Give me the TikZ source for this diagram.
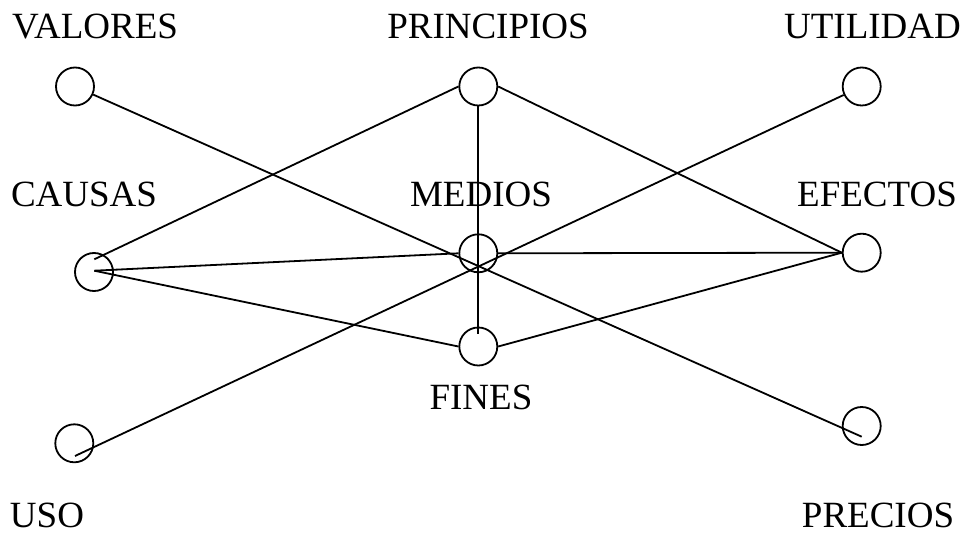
\documentclass[tikz,border=0pt]{standalone}
\usepackage{fontspec}
\setmainfont{Liberation Serif}
\begin{document}
\begin{tikzpicture}[x=1pt,y=-1pt,
  dot/.style={draw,circle,minimum size=38pt,inner sep=0pt,line width=1.8pt},
  lbl/.style={anchor=base,inner sep=0pt,text depth=0pt,font=\fontsize{37}{42}\selectfont},
  conn/.style={line width=1.8pt}]
\useasboundingbox (0,0) rectangle (964,537);
% circles
\node[dot] (valores) at (75,86.5) {};
\node[dot] (principios) at (478.3,86.5) {};
\node[dot] (utilidad) at (861.7,86.5) {};
\node[dot] (causas) at (94,272) {};
\node[dot] (medios) at (478.3,253.3) {};
\node[dot] (efectos) at (861.7,252.7) {};
\node[dot] (fines) at (478.3,346.5) {};
\node[dot] (uso) at (74.3,443.3) {};
\node[dot] (precios) at (861.7,426) {};
% labels
\node[lbl] (tvalores) at (95,39) {VALORES};
\node[lbl] (tprincipios) at (488,39) {PRINCIPIOS};
\node[lbl] (tutilidad) at (872.5,39) {UTILIDAD};
\node[lbl] (tcausas) at (84,206.7) {CAUSAS};
\node[lbl] (tmedios) at (481,206.7) {MEDIOS};
\node[lbl] (tefectos) at (877,206.7) {EFECTOS};
\node[lbl] (tfines) at (481,409.3) {FINES};
\node[lbl] (tuso) at (47,527) {USO};
\node[lbl] (tprecios) at (878,527) {PRECIOS};
% free ends
\coordinate (preend) at (861.7,436.7);
\coordinate (usoend) at (75,456);
\coordinate (caustop) at (94.3,259.3);
\coordinate (causmid) at (94.3,270.7);
\coordinate (finesin) at (478.3,334);
% connectors
\draw[conn] (valores) -- (preend);
\draw[conn] (utilidad) -- (usoend);
\draw[conn] (caustop) -- (principios.west);
\draw[conn] (principios.east) -- (efectos.west);
\draw[conn] (principios.south) -- (finesin);
\draw[conn] (causmid) -- (medios.west);
\draw[conn] (causmid) -- (fines.west);
\draw[conn] (medios.east) -- (efectos.west);
\draw[conn] (fines.east) -- (efectos.west);
\end{tikzpicture}
\end{document}
